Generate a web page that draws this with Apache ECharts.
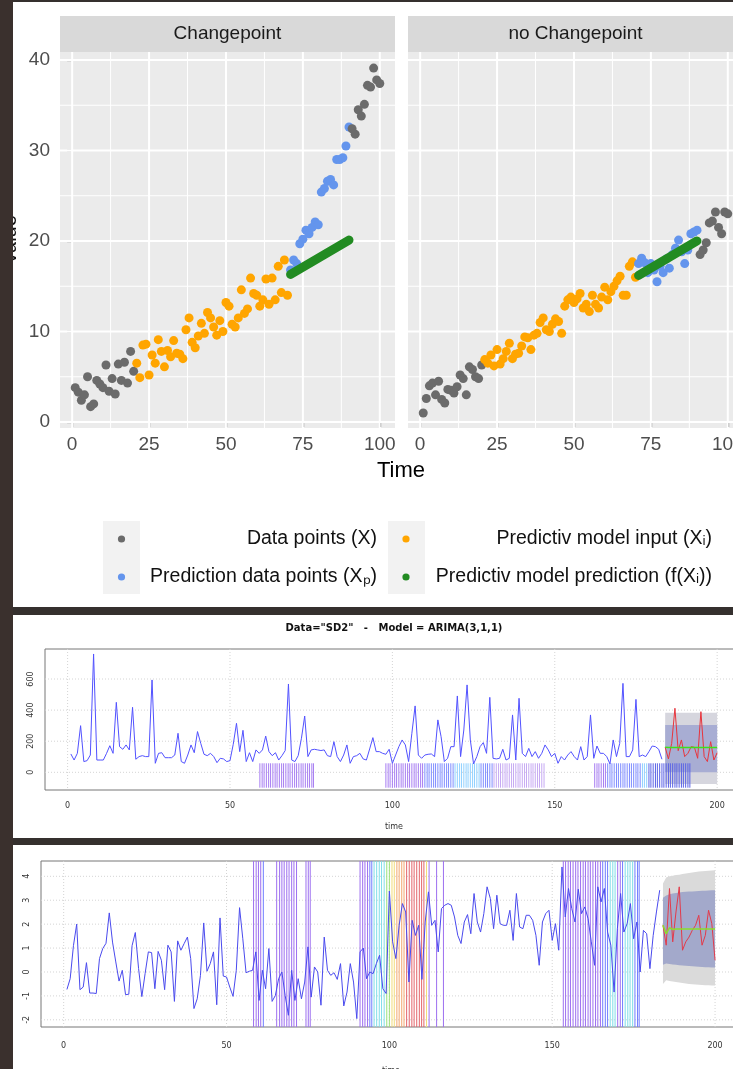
<!DOCTYPE html>
<html>
<head>
<meta charset="utf-8">
<script src="https://cdn.jsdelivr.net/npm/echarts@6/dist/echarts.min.js"></script>
<style>
  html, body { margin: 0; padding: 0; background: #35302e; overflow: hidden; }
  #main { width: 760px; height: 1069px; }
</style>
</head>
<body>
<div id="main"></div>
<script>
// ---------- top panel: facet "Changepoint" (values per time step) ----------
const cpGrayHead = [3.8, 3.3, 2.4, 3.0, 5.0, 1.7, 2.0, 4.6, 4.2, 3.8, 6.3, 3.4, 4.8, 3.1, 6.4, 4.6, 6.6, 4.3, 7.8, 5.6] // t 1-20
const cpInput = [6.5, 4.9, 8.5, 8.6, 5.2, 7.4, 6.5, 9.1, 7.8, 6.1, 7.9, 7.2, 9.0, 7.6, 7.5, 7.0, 10.2, 11.5, 8.8, 8.2,
  9.5, 10.9, 9.8, 12.1, 11.5, 10.5, 9.6, 11.2, 10.0, 13.2, 12.8, 10.8, 10.5, 11.5, 14.6, 12.0, 12.5, 15.9, 14.2, 14.0,
  12.8, 13.5, 15.8, 13.0, 15.9, 13.5, 17.2, 14.3, 17.9, 14.0] // t 21-70
const cpPred = [16.8, 17.9, 17.5, 19.7, 20.2, 21.2, 20.8, 21.5, 22.1, 21.8, 25.4, 25.8, 26.6, 26.8, 26.2, 29.0, 29.0, 29.2, 30.5, 32.6] // t 71-90
const cpGrayTail = [32.4, 31.8, 34.5, 33.8, 35.1, 37.2, 37.0, 39.1, 37.8, 37.4] // t 91-100
const cpModel = [[71, 16.3], [90, 20.1]]

// ---------- top panel: facet "no Changepoint" ----------
const ncpGrayHead = [1.0, 2.6, 4.0, 4.3, 3.0, 4.5, 2.5, 2.1, 3.6, 3.5, 3.2, 3.9, 5.2, 4.8, 3.0, 6.1, 5.8, 5.0, 4.8, 6.3]
const ncpInput = [6.9, 6.5, 7.4, 6.2, 8.0, 6.4, 7.0, 7.8, 8.7, 7.0, 7.5, 7.6, 8.4, 9.4, 9.3, 8.0, 9.6, 9.8, 11.0, 11.5,
  10.2, 10.0, 10.8, 11.4, 11.1, 9.8, 12.8, 13.5, 13.8, 13.2, 13.6, 14.2, 12.6, 13.0, 12.2, 14.0, 13.0, 12.6, 13.8, 14.9,
  13.5, 14.4, 15.0, 15.6, 16.1, 14.0, 14.0, 17.2, 17.7, 16.0]
const ncpPred = [17.5, 18.1, 17.6, 16.5, 17.5, 16.8, 15.5, 17.2, 16.5, 18.0, 17.0, 18.5, 19.2, 20.1, 18.8, 17.5, 19.0, 20.8, 21.0, 21.2]
const ncpGrayTail = [18.5, 19.0, 19.8, 22.0, 22.2, 23.2, 21.5, 20.8, 23.2, 23.0]
const ncpModel = [[71, 16.2], [90, 20.0]]

const facetTicksX = [0, 25, 50, 75, 100]
const facetMinorX = [12.5, 37.5, 62.5, 87.5]
const facetTicksY = [0, 10, 20, 30, 40]
const facetMinorY = [5, 15, 25, 35]
const facetNames = ['Changepoint', 'no Changepoint']
const legendLabels = ['Data points (X)', 'Predictiv model input (X\u1d62)', 'Prediction data points (X\u209a)', 'Predictiv model prediction (f(X\u1d62))']

// ---------- middle panel: SD2 series, ARIMA(3,1,1) ----------
const sd2Values = [
  118, 79, 122, 300, 69, 75, 111, 761, 79, 79,
  79, 122, 171, 122, 450, 165, 148, 176, 144, 418,
  84, 101, 107, 101, 101, 594, 58, 122, 126, 94,
  94, 94, 111, 251, 69, 58, 111, 176, 126, 262,
  186, 116, 107, 122, 101, 62, 90, 86, 69, 75,
  180, 315, 133, 270, 69, 126, 69, 144, 122, 144,
  233, 133, 107, 126, 79, 107, 140, 568, 79, 69,
  107, 219, 362, 101, 144, 148, 144, 140, 144, 107,
  101, 197, 101, 69, 111, 176, 58, 101, 107, 122,
  86, 79, 150, 223, 133, 133, 122, 116, 148, 58,
  111, 165, 208, 176, 69, 251, 427, 111, 90, 111,
  116, 118, 101, 337, 229, 69, 90, 165, 165, 491,
  101, 272, 562, 208, 54, 101, 165, 191, 122, 482,
  90, 86, 90, 148, 79, 90, 369, 79, 476, 122,
  101, 154, 101, 133, 90, 122, 176, 144, 101, 122,
  58, 101, 79, 111, 133, 101, 79, 165, 79, 101,
  369, 90, 169, 122, 122, 101, 54, 208, 101, 186,
  572, 101, 101, 144, 469, 101, 111, 101, 133, 169,
  165, 148, 84] // t 1-183
const forecastTimes = [184, 185, 186, 187, 188, 189, 190, 191, 192, 193, 194, 195, 196, 197, 198, 199, 200]
const sd2Actual = [161, 86, 186, 412, 139, 208, 101, 122, 165, 161, 90, 390, 101, 69, 197, 79, 126]
const sd2Mean = [161, 160, 160, 160, 160, 160, 160, 160, 160, 160, 160, 160, 160, 160, 160, 160, 160]
const sd2Hi95 = [383, 383, 383, 383, 383, 383, 383, 383, 383, 383, 383, 383, 383, 383, 383, 383, 383]
const sd2Lo95 = [-75, -75, -75, -75, -75, -75, -75, -75, -75, -75, -75, -75, -75, -75, -75, -75, -75]
const sd2Hi80 = [304, 304, 304, 304, 304, 304, 304, 304, 304, 304, 304, 304, 304, 304, 304, 304, 304]
const sd2Lo80 = [0, 0, 0, 0, 0, 0, 0, 0, 0, 0, 0, 0, 0, 0, 0, 0, 0]
const sd2Rug = [
  59.2, 59.9, 60.5, 61.2, 61.9, 62.5, 63.2, 63.9, 64.5, 65.2, 65.9, 66.5, 67.2, 67.9, 68.5, 69.2, 69.9, 70.5, 71.2,
  71.9, 72.5, 73.2, 73.9, 74.5, 75.2, 75.7,
  98.0, 98.7, 99.3, 100.0, 100.7, 101.3, 102.0, 102.7, 103.3, 104.0, 104.7, 105.3, 106.0, 106.7, 107.3, 108.0,
  108.7, 109.3, 110.0, 110.7, 111.3, 112.0, 112.7, 113.3, 114.0, 114.7, 115.3, 116.0, 116.7, 117.3, 118.0, 118.7,
  119.3, 120.0, 120.7, 121.3, 122.0, 122.7, 123.3, 124.0, 124.7, 125.3, 126.0, 126.7, 127.3, 128.0, 128.7, 129.3,
  130.0, 130.7, 131.3, 132.0, 132.7, 133.3, 134.0, 134.7, 135.3, 136.0, 136.7, 137.3, 138.0, 138.7, 139.3, 140.0,
  140.7, 141.3, 142.0, 142.7, 143.3, 144.0, 144.7, 145.3, 146.0, 146.7,
  162.3, 163.0, 163.6, 164.3, 165.0, 165.6, 166.3, 167.0, 167.6, 168.3, 169.0, 169.6, 170.3, 171.0, 171.6, 172.3,
  173.0, 173.6, 174.3, 175.0, 175.6, 176.3, 177.0, 177.6, 178.3, 179.0, 179.6, 180.3, 181.0, 181.6, 182.3, 183.0,
  183.6, 184.3, 185.0, 185.6, 186.3, 187.0, 187.6, 188.3, 189.0, 189.6, 190.3, 191.0, 191.6]
const sd2TicksX = [0, 50, 100, 150, 200]
const sd2TicksY = [0, 200, 400, 600]

// ---------- bottom panel: second series ----------
const resValues = [
  -0.73, -0.28, 1.1, 2.0, -0.74, -0.63, 0.39, -0.88, -0.88, -0.9,
  0.56, 0.98, 1.2, 2.47, 1.25, 0.42, -0.38, 0.07, -0.95, -0.93,
  1.1, 1.65, 0.14, -1.03, -0.07, 0.84, 0.81, -0.7, 0.86, 0.49,
  -0.74, 1.12, 0.84, -1.23, 1.3, 0.91, 1.19, 1.46, 0.56, -1.53,
  -1.12, -0.14, 2.05, 0.03, 0.35, 0.84, -1.37, 2.26, -0.17, -0.21,
  -0.63, -1.02, 0.07, 2.69, 1.39, -0.03, 0.03, 0.07, 0.84, -1.19,
  0.07, -0.7, 0.98, -1.23, -0.98, -0.28, 0.0, -0.98, -1.81, 0.07,
  -1.19, -0.28, -1.12, -0.42, 1.05, -1.05, 0.21, 0.0, -1.39, 1.46,
  0.07, -0.14, -0.03, -0.31, 0.35, -1.42, -0.84, 0.35, -0.42, -1.95,
  0.84, 1.0, -0.28, 0.0, -0.07, 0.35, 0.7, -0.7, -0.9, 3.38,
  1.26, 0.56, 1.95, 2.86, 2.51, -0.42, 2.16, 1.53, 1.95, -0.31,
  2.09, 3.35, 1.95, 2.16, 0.84, 2.65, 2.79, 2.86, 2.79, 2.3,
  1.53, 1.19, 2.09, 2.4, 1.6, 3.28, 2.09, 1.67, 2.44, 3.56,
  3.07, 1.81, 3.21, 2.02, 1.95, 1.95, 2.58, 1.32, 3.28, 1.88,
  1.81, 2.37, 2.37, 2.16, 1.53, 0.28, 2.09, 2.44, 2.58, 1.32,
  2.02, 0.91, 4.39, 2.3, 3.49, 2.65, 2.09, 3.46, 2.44, 2.72,
  2.23, 1.26, 0.28, 3.56, 2.93, 3.49, 1.67, 1.12, -0.84, 1.81,
  3.28, 1.67, 2.02, 2.86, 1.39, 2.09, 0.0, 1.74, 1.6, 0.14,
  1.53, 2.51, 3.42] // t 1-183
const resActual = [1.95, 1.12, 3.49, 1.26, 2.51, 3.56, 0.91, 1.26, 1.46, 1.74, 1.95, 2.37, 1.12, 1.53, 2.58, 2.02, 0.49]
const resMean = [1.95, 1.6, 1.85, 1.78, 1.8, 1.8, 1.8, 1.8, 1.8, 1.8, 1.8, 1.8, 1.8, 1.8, 1.8, 1.8, 1.8]
const resHi95 = [3.7, 3.95, 4.0, 4.02, 4.05, 4.07, 4.1, 4.12, 4.14, 4.16, 4.18, 4.2, 4.21, 4.22, 4.23, 4.24, 4.25]
const resLo95 = [-0.5, -0.35, -0.38, -0.4, -0.42, -0.44, -0.46, -0.48, -0.5, -0.51, -0.52, -0.53, -0.54, -0.55, -0.55, -0.56, -0.56]
const resHi80 = [3.1, 3.2, 3.25, 3.28, 3.3, 3.32, 3.34, 3.35, 3.36, 3.37, 3.38, 3.39, 3.4, 3.4, 3.41, 3.42, 3.42]
const resLo80 = [0.3, 0.35, 0.33, 0.31, 0.3, 0.28, 0.27, 0.26, 0.25, 0.24, 0.23, 0.22, 0.21, 0.2, 0.2, 0.19, 0.19]
const resMarks = [
  58.3, 59.1, 59.8, 60.5, 61.3,
  65.4, 66.3, 67.0, 67.7, 68.5, 69.2, 70.0, 70.7, 71.5,
  74.4, 75.1, 75.7,
  91.0, 91.8, 92.5, 93.3, 94.0, 94.6, 95.3, 96.1, 96.9, 97.6, 98.4, 99.2, 100.0, 100.8, 101.5, 102.3, 103.0,
  103.8, 104.5, 105.3, 106.1, 106.9, 107.6, 108.4, 109.2, 109.9, 110.6, 111.4, 112.2, 114.5, 116.6,
  153.4, 154.1, 154.9, 155.6, 156.4, 157.2, 157.9, 158.7, 159.5, 160.2, 161.0, 161.7, 162.5, 163.3, 164.0, 164.8,
  165.5, 166.3, 167.0, 167.8, 168.6, 169.3, 170.1, 170.9, 171.6, 172.4, 173.2, 173.9, 174.7, 175.4, 176.2, 176.7]
const resTicksY = [-2, -1, 0, 1, 2, 3, 4]

// ---------- colours ----------
const ggGray = '#6b6b6b', ggOrange = '#FFA500', ggBlue = '#6495ED', ggGreen = '#228B22'
const sd2RugPalette = { P: '#a67cf2', L: '#c6a9f3', B: '#7d8bff', C: '#8fd0ff', D: '#5a62e6' }
const sd2RugRanges = [[58, 77, 'P'], [97, 110, 'P'], [110, 119, 'B'], [119, 127, 'C'], [127, 131, 'B'], [131, 148, 'L'],
  [162, 166, 'P'], [166, 177, 'B'], [177, 179, 'C'], [179, 193, 'D']]
const resPalette = { P: '#9d6ff0', B: '#6f7cff', C: '#7fdde8', G: '#9be07a', Y: '#f2dc7a', O: '#f3a76e', R: '#e4646a' }
const resRanges = [[58, 61, 'P'], [61, 62, 'B'], [65, 76, 'P'], [90, 94, 'P'], [94, 95.2, 'B'], [95.2, 99, 'C'],
  [99, 100.5, 'G'], [100.5, 102, 'Y'], [102, 105, 'O'], [105, 111, 'R'], [111, 112, 'Y'], [112, 117, 'P'],
  [153, 165.2, 'P'], [165.2, 167.5, 'B'], [167.5, 170, 'C'], [170, 171.3, 'P'], [171.3, 172, 'B'], [172, 175, 'C'], [175, 177, 'B']]

const pairs = (start, vals) => vals.map((v, i) => [start + i, v])
const zip = (xs, ys) => xs.map((x, i) => [x, ys[i]])
const pick = (t, ranges, palette) => {
  const r = ranges.find(r => t >= r[0] && t < r[1])
  return r ? palette[r[2]] : '#999'
}

// straight grid lines drawn through the axis scale
function gridLines(idx, values, dir, style, z) {
  return {
    type: 'custom', xAxisIndex: idx, yAxisIndex: idx, z, silent: true, animation: false,
    data: values.map(v => dir === 'v' ? [v, 0] : [0, v]),
    renderItem(params, api) {
      const cs = params.coordSys
      if (dir === 'v') {
        const x = api.coord([api.value(0), 0])[0]
        return { type: 'line', shape: { x1: x, y1: cs.y, x2: x, y2: cs.y + cs.height }, style }
      }
      const y = api.coord([0, api.value(1)])[1]
      return { type: 'line', shape: { x1: cs.x, y1: y, x2: cs.x + cs.width, y2: y }, style }
    }
  }
}

function bandSeries(idx, times, lo, hi, color, z) {
  return {
    type: 'custom', xAxisIndex: idx, yAxisIndex: idx, z, silent: true, animation: false,
    data: times.map((t, i) => [t, lo[i], hi[i]]),
    encode: { x: 0, y: [1, 2] },
    renderItem(params, api) {
      if (params.dataIndex !== 0) return null
      const top = times.map((t, i) => api.coord([t, hi[i]]))
      const bot = times.map((t, i) => api.coord([t, lo[i]])).reverse()
      return { type: 'polygon', shape: { points: top.concat(bot) }, style: { fill: color } }
    }
  }
}

function markSeries(idx, positions, y0, y1, colorOf, z) {
  return {
    type: 'custom', xAxisIndex: idx, yAxisIndex: idx, z, silent: true, animation: false,
    data: positions.map(t => [t, 0]),
    renderItem(params, api) {
      const cs = params.coordSys
      const t = api.value(0)
      const x = api.coord([t, 0])[0]
      const ya = y0 === null ? cs.y : api.coord([t, y0])[1]
      const yb = y1 === null ? cs.y + cs.height : api.coord([t, y1])[1]
      return { type: 'line', shape: { x1: x, y1: ya, x2: x, y2: yb }, style: { stroke: colorOf(t), lineWidth: 1 } }
    }
  }
}

function scatter(idx, data, color) {
  return {
    type: 'scatter', xAxisIndex: idx, yAxisIndex: idx, data, symbolSize: 9, z: 4,
    itemStyle: { color, opacity: 1 }, silent: true
  }
}

const ggFont = 'Liberation Sans, Arial, sans-serif'
const rFont = 'DejaVu Sans, sans-serif'

function facetX(idx) {
  return {
    gridIndex: idx, type: 'value', min: -3.95, max: 104.95,
    axisLine: { show: false },
    axisTick: { show: true, customValues: facetTicksX, length: 5, lineStyle: { color: '#333', width: 1.2 } },
    axisLabel: { customValues: facetTicksX, color: '#4d4d4d', fontSize: 19, fontFamily: ggFont, margin: 7 },
    splitLine: { show: false }
  }
}
function facetY(idx, labels) {
  return {
    gridIndex: idx, type: 'value', min: -0.66, max: 40.88,
    axisLine: { show: false },
    axisTick: { show: labels, customValues: facetTicksY, length: 5, lineStyle: { color: '#333', width: 1.2 } },
    axisLabel: { show: labels, customValues: facetTicksY, color: '#4d4d4d', fontSize: 19, fontFamily: ggFont, margin: 10 },
    splitLine: { show: false }
  }
}
function rX(idx, margin, gap) {
  return {
    gridIndex: idx, type: 'value', min: -6.96, max: 207.96,
    axisLine: { show: false }, axisTick: { show: false },
    axisLabel: { customValues: sd2TicksX, color: '#333', fontSize: 8, fontFamily: rFont, margin },
    splitLine: { show: false },
    name: 'time', nameLocation: 'middle', nameGap: gap,
    nameTextStyle: { color: '#333', fontSize: 8, fontFamily: rFont }
  }
}
function rY(idx, min, max, ticks) {
  return {
    gridIndex: idx, type: 'value', min, max,
    axisLine: { show: false }, axisTick: { show: false },
    axisLabel: { customValues: ticks, rotate: 90, color: '#333', fontSize: 8, fontFamily: rFont, margin: 10 },
    splitLine: { show: false }
  }
}

const white = { stroke: '#ffffff', lineWidth: 2 }
const whiteMinor = { stroke: '#ffffff', lineWidth: 1 }
const dotted = { stroke: '#d4d4d4', lineWidth: 1, lineDash: [1, 2] }

const series = []
// facets
;[[0, cpGrayHead, cpInput, cpPred, cpGrayTail, cpModel], [1, ncpGrayHead, ncpInput, ncpPred, ncpGrayTail, ncpModel]]
  .forEach(([idx, head, input, pred, tail, model]) => {
    series.push(gridLines(idx, facetMinorX, 'v', whiteMinor, 1))
    series.push(gridLines(idx, facetMinorY, 'h', whiteMinor, 1))
    series.push(gridLines(idx, facetTicksX, 'v', white, 1))
    series.push(gridLines(idx, facetTicksY, 'h', white, 1))
    series.push(scatter(idx, pairs(1, head), ggGray))
    series.push(scatter(idx, pairs(21, input), ggOrange))
    series.push(scatter(idx, pairs(71, pred), ggBlue))
    series.push(scatter(idx, pairs(91, tail), ggGray))
    series.push({
      type: 'line', xAxisIndex: idx, yAxisIndex: idx, data: model, showSymbol: false, z: 5, silent: true,
      lineStyle: { color: ggGreen, width: 9, cap: 'round' }
    })
  })

// middle panel
series.push(gridLines(2, sd2TicksX, 'v', dotted, 1))
series.push(gridLines(2, sd2TicksY, 'h', dotted, 1))
series.push(bandSeries(2, forecastTimes, sd2Lo95, sd2Hi95, '#d6d6de', 2))
series.push(bandSeries(2, forecastTimes, sd2Lo80, sd2Hi80, '#a8add3', 3))
series.push(markSeries(2, sd2Rug, 58, -99, t => pick(t, sd2RugRanges, sd2RugPalette), 4))
series.push({ type: 'line', xAxisIndex: 2, yAxisIndex: 2, data: pairs(1, sd2Values), showSymbol: false, z: 5, silent: true,
  lineStyle: { color: '#5252ff', width: 1 } })
series.push({ type: 'line', xAxisIndex: 2, yAxisIndex: 2, data: zip(forecastTimes, sd2Actual), showSymbol: false, z: 5, silent: true,
  lineStyle: { color: '#e8343c', width: 1 } })
series.push({ type: 'line', xAxisIndex: 2, yAxisIndex: 2, data: zip(forecastTimes, sd2Mean), showSymbol: false, z: 6, silent: true,
  lineStyle: { color: '#3fe01a', width: 1.5 } })

// bottom panel
series.push(gridLines(3, sd2TicksX, 'v', dotted, 1))
series.push(gridLines(3, resTicksY, 'h', dotted, 1))
series.push(markSeries(3, resMarks, null, null, t => pick(t, resRanges, resPalette), 2))
series.push(bandSeries(3, forecastTimes, resLo95, resHi95, '#dadada', 3))
series.push(bandSeries(3, forecastTimes, resLo80, resHi80, '#a3a9cb', 3))
series.push({ type: 'line', xAxisIndex: 3, yAxisIndex: 3, data: pairs(1, resValues), showSymbol: false, z: 5, silent: true,
  lineStyle: { color: '#4a4aee', width: 1 } })
series.push({ type: 'line', xAxisIndex: 3, yAxisIndex: 3, data: zip(forecastTimes, resActual), showSymbol: false, z: 5, silent: true,
  lineStyle: { color: '#e33a4a', width: 1 } })
series.push({ type: 'line', xAxisIndex: 3, yAxisIndex: 3, data: zip(forecastTimes, resMean), showSymbol: false, z: 6, silent: true,
  lineStyle: { color: '#8ae02a', width: 1.5 } })

function txt(text, x, y, size, opts) {
  return {
    type: 'text', z: 20, silent: true,
    style: Object.assign({ text, x, y, fill: '#1a1a1a', fontSize: size, fontFamily: ggFont,
      align: 'center', textAlign: 'center', verticalAlign: 'middle', textVerticalAlign: 'middle' }, opts || {})
  }
}
function rightTxt(text, x, y) {
  return txt(text, x, y, 19.5, { align: 'right', textAlign: 'right', fill: '#111' })
}

// y title of the top panel: mostly hidden behind the dark left margin
const yTitle = txt('Value', 0, 0, 20, { fill: '#111' })
yTitle.x = 10
yTitle.y = 240
yTitle.rotation = Math.PI / 2

const graphics = [
  { type: 'rect', z: -10, silent: true, shape: { x: 13, y: 2, width: 747, height: 605 }, style: { fill: '#fff' } },
  { type: 'rect', z: -10, silent: true, shape: { x: 13, y: 615, width: 747, height: 223 }, style: { fill: '#fff' } },
  { type: 'rect', z: -10, silent: true, shape: { x: 13, y: 845, width: 747, height: 224 }, style: { fill: '#fff' } },
  { type: 'rect', z: 10, silent: true, shape: { x: 60, y: 16, width: 335, height: 36 }, style: { fill: '#d9d9d9' } },
  { type: 'rect', z: 10, silent: true, shape: { x: 408, y: 16, width: 335, height: 36 }, style: { fill: '#d9d9d9' } },
  txt(facetNames[0], 227.5, 34, 19),
  txt(facetNames[1], 575.5, 34, 19),
  txt('Time', 401, 471, 22, { fill: '#000' }),
  yTitle,
  { type: 'rect', z: 30, silent: true, shape: { x: 0, y: 0, width: 13, height: 1069 }, style: { fill: '#3a302d' } },
  { type: 'rect', z: 10, silent: true, shape: { x: 103, y: 521, width: 37, height: 73 }, style: { fill: '#f2f2f2' } },
  { type: 'rect', z: 10, silent: true, shape: { x: 388, y: 521, width: 37, height: 73 }, style: { fill: '#f2f2f2' } },
  { type: 'circle', z: 11, silent: true, shape: { cx: 121.5, cy: 539, r: 3.6 }, style: { fill: ggGray } },
  { type: 'circle', z: 11, silent: true, shape: { cx: 121.5, cy: 577, r: 3.6 }, style: { fill: ggBlue } },
  { type: 'circle', z: 11, silent: true, shape: { cx: 406, cy: 539, r: 3.6 }, style: { fill: ggOrange } },
  { type: 'circle', z: 11, silent: true, shape: { cx: 406, cy: 577, r: 3.6 }, style: { fill: ggGreen } },
  rightTxt(legendLabels[0], 377, 539),
  rightTxt(legendLabels[1], 712, 539),
  rightTxt(legendLabels[2], 377, 577),
  rightTxt(legendLabels[3], 712, 577),
  txt('Data="SD2"   -   Model = ARIMA(3,1,1)', 394, 628, 10, { fontFamily: rFont, fontWeight: 'bold', fill: '#111' })
]

const chart = echarts.init(document.getElementById('main'), null, { renderer: 'canvas' })
chart.setOption({
  animation: false,
  backgroundColor: '#35302e',
  grid: [
    { left: 60, top: 52, width: 335, height: 376, show: true, backgroundColor: '#ebebeb', borderWidth: 0, outerBoundsMode: 'none' },
    { left: 408, top: 52, width: 335, height: 376, show: true, backgroundColor: '#ebebeb', borderWidth: 0, outerBoundsMode: 'none' },
    { left: 45, top: 649, width: 698, height: 141, show: true, backgroundColor: 'transparent', borderColor: '#777', borderWidth: 1, outerBoundsMode: 'none' },
    { left: 41, top: 861, width: 700, height: 166, show: true, backgroundColor: 'transparent', borderColor: '#777', borderWidth: 1, outerBoundsMode: 'none' }
  ],
  xAxis: [facetX(0), facetX(1), rX(2, 12, 33), rX(3, 15, 40)],
  yAxis: [facetY(0, true), facetY(1, false), rY(2, -113.8, 793, sd2TicksY), rY(3, -2.3, 4.64, resTicksY)],
  series,
  graphic: graphics
})
</script>
</body>
</html>
